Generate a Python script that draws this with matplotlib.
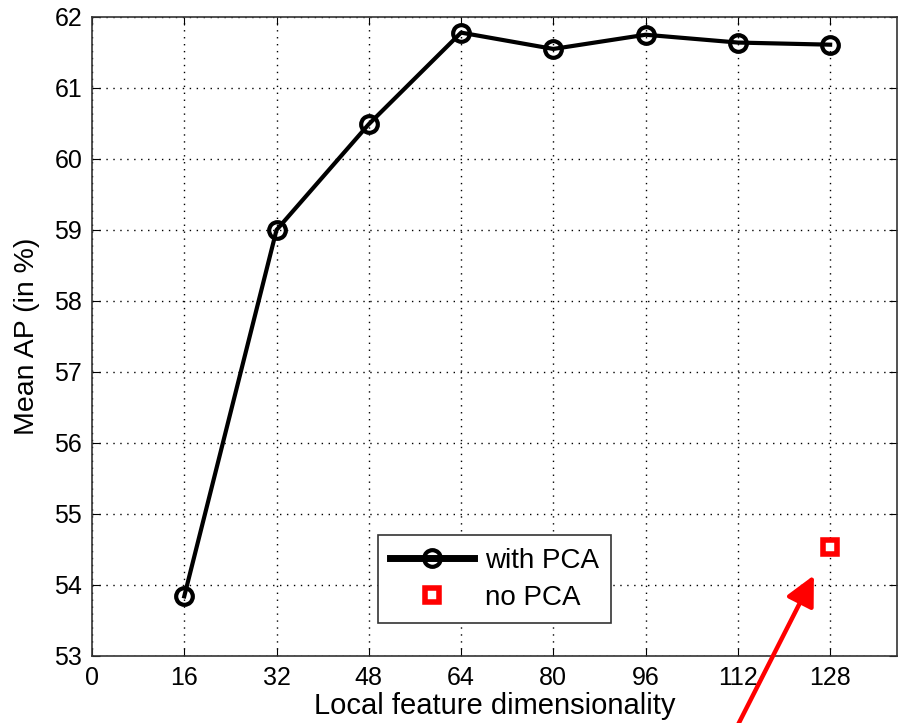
import numpy as np
import matplotlib.pyplot as plt

plt.rcParams['font.family'] = ['Liberation Sans', 'DejaVu Sans']

#datos
dims = [16, 32, 48, 64, 80, 96, 112, 128]
ap_pca = [53.84, 59.0, 60.49, 61.78, 61.55, 61.75, 61.64, 61.61]
dim_nopca = [128]
ap_nopca = [54.53]

fig = plt.figure(figsize=(9, 7.23), dpi=100)
ax = fig.add_axes([0.1022, 0.0927, 0.8945, 0.8838])

ax.plot(dims, ap_pca, '-o', color='k', lw=3, ms=12, mfc='none', mew=3,
        label='with PCA')
ax.plot(dim_nopca, ap_nopca, 's', color='red', ms=10, mfc='white', mew=4,
        label='no PCA')

ax.set_xlim(0, 139.6)
ax.set_ylim(53, 62)
ax.set_xticks([0, 16, 32, 48, 64, 80, 96, 112, 128])
ax.set_yticks(np.arange(53, 63))
ax.tick_params(direction='in', labelsize=18, length=6, top=True, right=True,
               labeltop=False, labelright=False, pad=7)
ax.grid(True, ls=(0, (1, 4)), color='k', lw=1)
for s in ax.spines.values():
    s.set_linewidth(1.2)
    s.set_color('#333333')

ax.set_xlabel('Local feature dimensionality', fontsize=21, labelpad=2)
ax.set_ylabel('Mean AP (in %)', fontsize=20.5, labelpad=10)

leg = ax.legend(loc='upper left', bbox_to_anchor=(0.355, 0.189), fontsize=20,
                fancybox=False, edgecolor='#333333', framealpha=1,
                handlelength=3.0, borderpad=0.45, labelspacing=0.4,
                borderaxespad=0, handletextpad=0.4)
leg.get_frame().set_linewidth(1.2)
leg.get_lines()[0].set_linewidth(5)

#flecha
ax.annotate('', xy=(125.4, 54.17), xytext=(111.2, 51.9),
            arrowprops=dict(arrowstyle='-|>', color='red', lw=3.2,
                            mutation_scale=45),
            annotation_clip=False)

plt.savefig('out.png', dpi=100)
